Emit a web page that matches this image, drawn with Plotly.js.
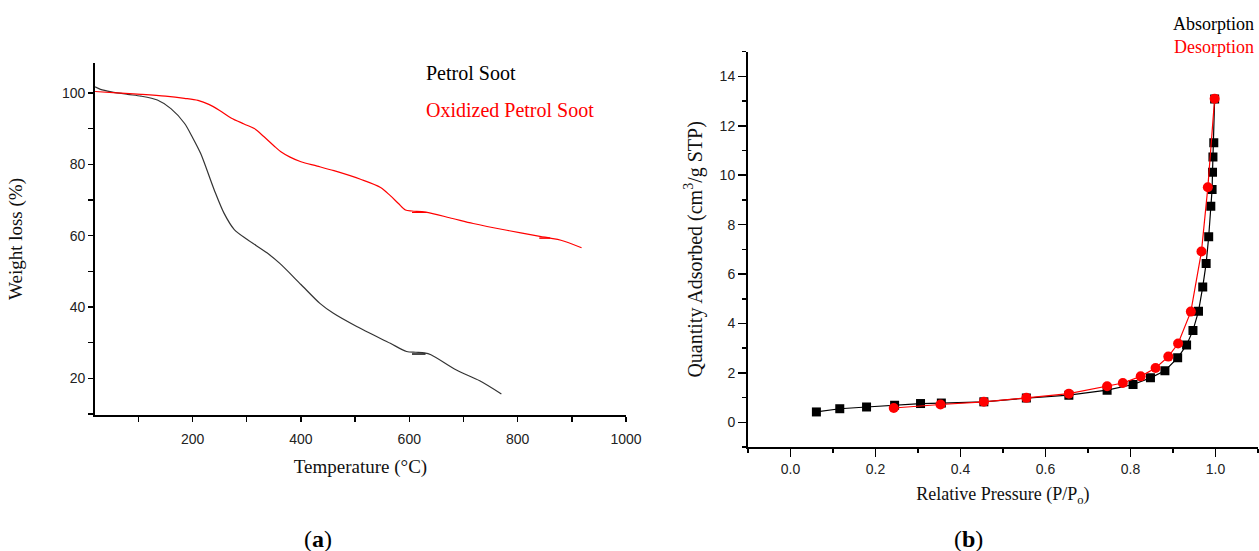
<!DOCTYPE html>
<html>
<head>
<meta charset="utf-8">
<script src="https://cdn.plot.ly/plotly-3.0.1.min.js"></script>
<style>html,body{margin:0;padding:0;background:#fff;}#chart{width:1259px;height:551px;}</style>
</head>
<body>
<div id="chart"></div>
<script>
// (a) TGA curves
const petrolTemp = [20, 30, 50, 80, 105, 135, 160, 185, 200, 215, 240, 258, 277, 301, 338, 361, 400, 435, 460, 503, 565, 595, 612, 628, 640, 687, 730, 770];
const petrolWeight = [101.7, 101.0, 100.3, 99.6, 99.1, 98.0, 95.6, 91.5, 87.5, 83.0, 72.8, 66.3, 61.7, 58.9, 55.1, 52.2, 46.3, 41.0, 38.2, 34.5, 29.8, 27.5, 27.3, 27.1, 26.6, 22.3, 19.3, 15.6];
const petrolGlitchTemp = [605, 630];
const petrolGlitchWeight = [26.8, 26.8];
const oxTemp = [20, 60, 105, 150, 185, 210, 230, 250, 271, 295, 314, 332, 350, 363, 380, 400, 430, 461, 510, 547, 565, 580, 593, 605, 630, 680, 718, 780, 841, 860, 880, 918];
const oxWeight = [100.4, 100.0, 99.6, 99.1, 98.5, 97.9, 96.8, 95.1, 93.0, 91.3, 90.0, 87.7, 85.2, 83.5, 82.0, 80.7, 79.5, 78.2, 75.8, 73.5, 71.2, 69.0, 67.2, 66.9, 66.6, 64.8, 63.4, 61.5, 59.8, 59.3, 58.7, 56.6];
const oxGlitchTemp = [605, 632, 840, 860];
const oxGlitchWeight = [66.5, 66.5, 59.3, 59.3];

// (b) N2 isotherm
const absP = [0.061, 0.116, 0.179, 0.245, 0.306, 0.355, 0.455, 0.555, 0.655, 0.745, 0.806, 0.847, 0.881, 0.911, 0.932, 0.947, 0.960, 0.970, 0.978, 0.984, 0.989, 0.992, 0.993, 0.994, 0.996, 0.998];
const absQ = [0.42, 0.55, 0.62, 0.69, 0.76, 0.78, 0.83, 0.98, 1.10, 1.30, 1.53, 1.80, 2.09, 2.61, 3.13, 3.72, 4.49, 5.48, 6.43, 7.51, 8.74, 9.42, 10.12, 10.74, 11.31, 13.08];
const desP = [0.998, 0.982, 0.967, 0.942, 0.912, 0.889, 0.859, 0.824, 0.782, 0.745, 0.655, 0.555, 0.455, 0.353, 0.243];
const desQ = [13.10, 9.51, 6.91, 4.48, 3.19, 2.66, 2.20, 1.86, 1.59, 1.46, 1.16, 0.99, 0.83, 0.72, 0.58];

const legendA = ["Petrol Soot", "Oxidized Petrol Soot"];
const legendB = ["Absorption", "Desorption"];

const serif = "Liberation Serif, Times New Roman, serif";
const sans = "Liberation Sans, Arial, sans-serif";

const traces = [
  {x: petrolTemp, y: petrolWeight, xaxis: 'x', yaxis: 'y', mode: 'lines', line: {color: '#333333', width: 1.2, shape: 'spline', smoothing: 0.8}, name: legendA[0], showlegend: false},
  {x: petrolGlitchTemp, y: petrolGlitchWeight, xaxis: 'x', yaxis: 'y', mode: 'lines', line: {color: '#111111', width: 1.5}, showlegend: false},
  {x: oxTemp, y: oxWeight, xaxis: 'x', yaxis: 'y', mode: 'lines', line: {color: '#ff0000', width: 1.2, shape: 'spline', smoothing: 0.9}, name: legendA[1], showlegend: false},
  {x: oxGlitchTemp.slice(0, 2), y: oxGlitchWeight.slice(0, 2), xaxis: 'x', yaxis: 'y', mode: 'lines', line: {color: '#ff0000', width: 1.2}, showlegend: false},
  {x: oxGlitchTemp.slice(2), y: oxGlitchWeight.slice(2), xaxis: 'x', yaxis: 'y', mode: 'lines', line: {color: '#ff0000', width: 1.5}, showlegend: false},
  {x: absP, y: absQ, xaxis: 'x2', yaxis: 'y2', mode: 'lines+markers', line: {color: '#000000', width: 1.2}, marker: {symbol: 'square', size: 9, color: '#000000'}, name: legendB[0], showlegend: false},
  {x: desP, y: desQ, xaxis: 'x2', yaxis: 'y2', mode: 'lines+markers', line: {color: '#ff0000', width: 1.2}, marker: {symbol: 'circle', size: 10, color: '#ff0000'}, name: legendB[1], showlegend: false}
];

function ax(extra) {
  return Object.assign({
    showline: true, linecolor: '#000', linewidth: 2, showgrid: false, zeroline: false,
    ticks: 'outside', ticklen: 5, tickwidth: 1.5, tickcolor: '#000',
    tickfont: {family: sans, size: 14, color: '#222'},
    automargin: false, mirror: false
  }, extra);
}

const layout = {
  width: 1259, height: 551,
  margin: {l: 0, r: 0, t: 0, b: 0},
  paper_bgcolor: '#fff', plot_bgcolor: 'rgba(0,0,0,0)',
  showlegend: false,
  xaxis: ax({domain: [0.0755, 0.4972], anchor: 'y', range: [20, 1000], tick0: 0, dtick: 200, ticklabelstandoff: 5,
    minor: {ticks: 'outside', ticklen: 5, dtick: 100, tick0: 0, tickcolor: '#000', tickwidth: 1.5},
    title: {text: 'Temperature (°C)', font: {family: serif, size: 19, color: '#111'}, standoff: 14}}),
  yaxis: ax({domain: [0.2468, 0.8857], anchor: 'x', range: [9.7, 108.4], tick0: 0, dtick: 20,
    minor: {ticks: 'outside', ticklen: 5, dtick: 10, tick0: 0, tickcolor: '#000', tickwidth: 1.5},
    title: {text: 'Weight loss (%)', font: {family: serif, size: 19, color: '#111'}, standoff: 34}}),
  xaxis2: ax({domain: [0.5941, 0.9992], anchor: 'y2', range: [-0.1, 1.1], tick0: 0, dtick: 0.2, ticklen: 8, tickformat: '.1f',
    minor: {ticks: 'outside', ticklen: 4, dtick: 0.1, tick0: 0, tickcolor: '#000', tickwidth: 1.5},
    title: {text: 'Relative Pressure (P/P<sub>o</sub>)', font: {family: serif, size: 18, color: '#111'}, standoff: 12}}),
  yaxis2: ax({domain: [0.1887, 0.9062], anchor: 'x2', range: [-1, 15], tick0: 0, dtick: 2, ticklen: 8,
    minor: {ticks: 'outside', ticklen: 4, dtick: 1, tick0: 0, tickcolor: '#000', tickwidth: 1.5},
    title: {text: 'Quantity Adsorbed (cm<sup>3</sup>/g STP)', font: {family: serif, size: 20, color: '#111'}, standoff: 12}}),
  annotations: [
    {xref: 'paper', yref: 'paper', x: 424/1259, y: 1 - 73/551, xanchor: 'left', yanchor: 'middle', showarrow: false,
     text: legendA[0], font: {family: serif, size: 20, color: '#000'}},
    {xref: 'paper', yref: 'paper', x: 424/1259, y: 1 - 110/551, xanchor: 'left', yanchor: 'middle', showarrow: false,
     text: legendA[1], font: {family: serif, size: 20, color: '#ff0000'}},
    {xref: 'paper', yref: 'paper', x: 1256/1259, y: 1 - 24/551, xanchor: 'right', yanchor: 'middle', showarrow: false,
     text: legendB[0], font: {family: serif, size: 18, color: '#000'}},
    {xref: 'paper', yref: 'paper', x: 1256/1259, y: 1 - 47/551, xanchor: 'right', yanchor: 'middle', showarrow: false,
     text: legendB[1], font: {family: serif, size: 18, color: '#ff0000'}},
    {xref: 'paper', yref: 'paper', x: 318/1259, y: 1 - 539/551, xanchor: 'center', yanchor: 'middle', showarrow: false,
     text: '(<b>a</b>)', font: {family: serif, size: 24, color: '#000'}},
    {xref: 'paper', yref: 'paper', x: 968/1259, y: 1 - 539/551, xanchor: 'center', yanchor: 'middle', showarrow: false,
     text: '(<b>b</b>)', font: {family: serif, size: 24, color: '#000'}}
  ]
};

Plotly.newPlot('chart', traces, layout, {staticPlot: true, displayModeBar: false});
</script>
</body>
</html>
